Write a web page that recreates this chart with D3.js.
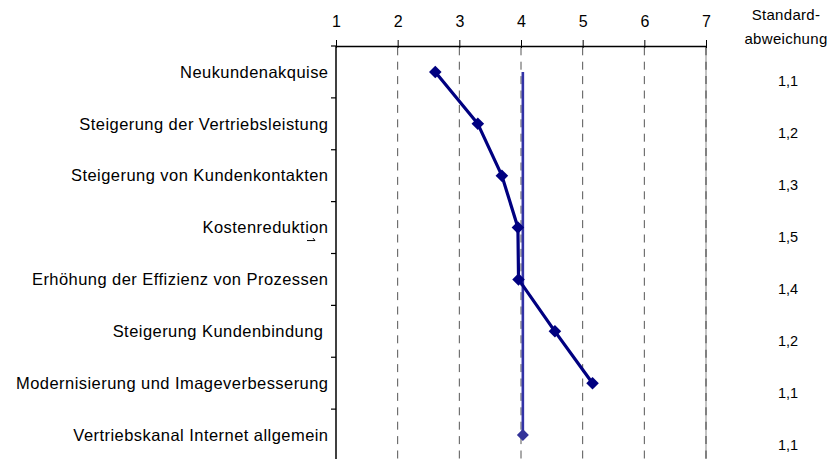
<!DOCTYPE html>
<html><head><meta charset="utf-8">
<script src="https://cdn.jsdelivr.net/npm/d3@7"></script>
<style>
body{margin:0;background:#fff;}
text{font-family:"Liberation Sans",Arial,sans-serif;fill:#000;}
</style></head>
<body>
<svg id="chart" width="833" height="459"></svg>
<script>
const categories = [
  "Neukundenakquise",
  "Steigerung der Vertriebsleistung",
  "Steigerung von Kundenkontakten",
  "Kostenreduktion",
  "Erhöhung der Effizienz von Prozessen",
  "Steigerung Kundenbindung ",
  "Modernisierung und Imageverbesserung",
  "Vertriebskanal Internet allgemein"
];
const meanValues = [2.61, 3.30, 3.69, 3.95, 3.96, 4.55, 5.16];
const overallValue = 4.03;
const stdDev = ["1,1","1,2","1,3","1,5","1,4","1,2","1,1","1,1"];
const xTicks = [1,2,3,4,5,6,7];
const headerLines = ["Standard-","abweichung"];

const svg = d3.select("#chart");
const x = d3.scaleLinear().domain([1,7]).range([336,706]);
const y = d3.scaleBand().domain(categories).range([46,461]);
const yc = c => y(c) + y.bandwidth()/2;

// gridlines
svg.append("g").selectAll("line").data(xTicks.filter(t=>t>1 && t<7)).join("line")
  .attr("x1",d=>x(d)).attr("x2",d=>x(d)).attr("y1",47.3).attr("y2",459)
  .attr("stroke","#555").attr("stroke-width",1).attr("stroke-dasharray","8,6.4");
// right border at 7
svg.append("line").attr("x1",x(7)).attr("x2",x(7)).attr("y1",46).attr("y2",459)
  .attr("stroke","#c4c4c4").attr("stroke-width",2);
svg.append("line").attr("x1",x(7)).attr("x2",x(7)).attr("y1",47.3).attr("y2",459)
  .attr("stroke","#808080").attr("stroke-width",2).attr("stroke-dasharray","8,6.4");

// top axis
const xAxis = d3.axisTop(x).tickValues(xTicks).tickSizeInner(6).tickSizeOuter(0).tickPadding(13).tickFormat(d3.format("d"));
const gx = svg.append("g").attr("transform","translate(0,46)").call(xAxis);
gx.select(".domain").attr("stroke","#000").attr("stroke-width",1.5);
gx.selectAll(".tick line").attr("stroke","#000").attr("y2",-6).attr("y1",2);
gx.selectAll(".tick text").attr("font-size","16px").attr("font-family","Liberation Sans, Arial, sans-serif").attr("fill","#000");

// left axis (band boundaries)
svg.append("line").attr("x1",x(1)).attr("x2",x(1)).attr("y1",46).attr("y2",459)
  .attr("stroke","#000").attr("stroke-width",1.5);
svg.append("g").selectAll("line").data(categories).join("line")
  .attr("x1",x(1)-5).attr("x2",x(1)).attr("y1",d=>y(d)).attr("y2",d=>y(d))
  .attr("stroke","#000").attr("stroke-width",1.2);

// category labels
svg.append("g").selectAll("text").data(categories).join("text")
  .attr("x",328.5).attr("y",d=>yc(d)+5.8).attr("text-anchor","end")
  .attr("font-size","16.5px").attr("letter-spacing","0.45px")
  .style("white-space","pre").text(d=>d);
// small artifact under Kostenreduktion
svg.append("path").attr("d",`M307,${yc(categories[3])+13} h8 l-2,-2.5`)
  .attr("stroke","#000").attr("stroke-width",1).attr("fill","none");

// overall vertical line
const lastCat = categories[categories.length-1];
svg.append("line").attr("x1",x(overallValue)).attr("x2",x(overallValue))
  .attr("y1",yc(categories[0])).attr("y2",yc(lastCat))
  .attr("stroke","#3333a6").attr("stroke-width",2.6);

const diamond = r => `M0,${-r}L${r},0L0,${r}L${-r},0Z`;

// main line
const pts = meanValues.map((v,i)=>[x(v), yc(categories[i])]);
svg.append("path").attr("d",d3.line()(pts)).attr("fill","none")
  .attr("stroke","#000080").attr("stroke-width",3.2).attr("stroke-linejoin","round");
svg.append("g").selectAll("path").data(pts).join("path")
  .attr("transform",d=>`translate(${d[0]},${d[1]})`).attr("d",diamond(6.3)).attr("fill","#000080");

svg.append("path").attr("transform",`translate(${x(overallValue)},${yc(lastCat)})`)
  .attr("d",diamond(6)).attr("fill","#333399");

// std dev column
svg.append("g").selectAll("text").data(headerLines).join("text")
  .attr("x",786).attr("y",(d,i)=>19.5+i*24).attr("text-anchor","middle")
  .attr("font-size","15px").attr("letter-spacing","0.3px").text(d=>d);
svg.append("g").selectAll("text").data(stdDev).join("text")
  .attr("x",788).attr("y",(d,i)=>yc(categories[i])+14.5).attr("text-anchor","middle")
  .attr("font-size","14.5px").text(d=>d);
</script>
</body></html>
